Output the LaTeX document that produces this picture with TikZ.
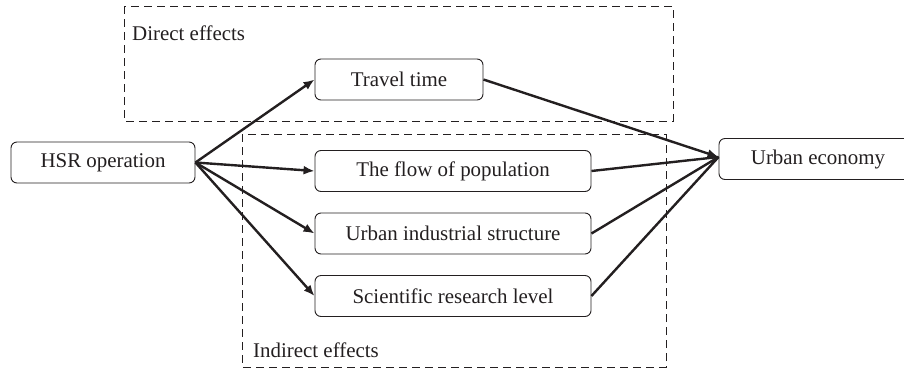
\documentclass[tikz,border=0pt]{standalone}
\usepackage{fontspec}
\setmainfont{Liberation Serif}
\usetikzlibrary{arrows.meta}
\definecolor{ink}{HTML}{231F20}
\begin{document}
\begin{tikzpicture}[x=1bp,y=-1bp,
  box/.style={draw=ink, line width=0.9bp, rounded corners=6bp, minimum height=41bp,
              inner sep=0pt, font=\fontsize{21}{25}\selectfont, text=ink},
  link/.style={draw=ink, line width=2.4bp},
  arr/.style={link, -{Latex[length=11bp,width=9bp]}},
  group/.style={draw=ink, line width=0.9bp, dash pattern=on 8bp off 5bp},
  tag/.style={font=\fontsize{21}{25}\selectfont, text=ink, inner sep=0pt, anchor=base west}]
\useasboundingbox (0,0) rectangle (904,370);
\clip (0,0) rectangle (904,370);

% effect groups
\draw[group] (124,6) rectangle (673,121);
\draw[group] (242,134) rectangle (666,367);
\node[tag] (direct) at (132,40) {Direct effects};
\node[tag] (indirect) at (253,357) {Indirect effects};

% nodes
\node[box, minimum width=184bp] (hsr) at (103,162.5) {HSR operation};
\node[box, minimum width=168bp] (travel) at (399,79.5) {Travel time};
\node[box, minimum width=276bp] (flow) at (453,171) {The flow of population};
\node[box, minimum width=276bp] (ind) at (453,233.5) {Urban industrial structure};
\node[box, minimum width=276bp] (sci) at (453,296) {Scientific research level};
\node[box, minimum width=198bp] (econ) at (818,159) {Urban economy};

% HSR to mediators
\draw[arr] (hsr.east) -- (travel.west);
\draw[arr] (hsr.east) -- (flow.west);
\draw[arr] (hsr.east) -- (ind.west);
\draw[arr] (hsr.east) -- (sci.west);

% mediators to urban economy
\coordinate (hub) at ([yshift=2bp]econ.west);
\draw[link] (flow.east) -- (hub);
\draw[link] (ind.east) -- (hub);
\draw[link] (sci.east) -- (hub);
\draw[arr] (travel.east) -- (hub);
\end{tikzpicture}
\end{document}
